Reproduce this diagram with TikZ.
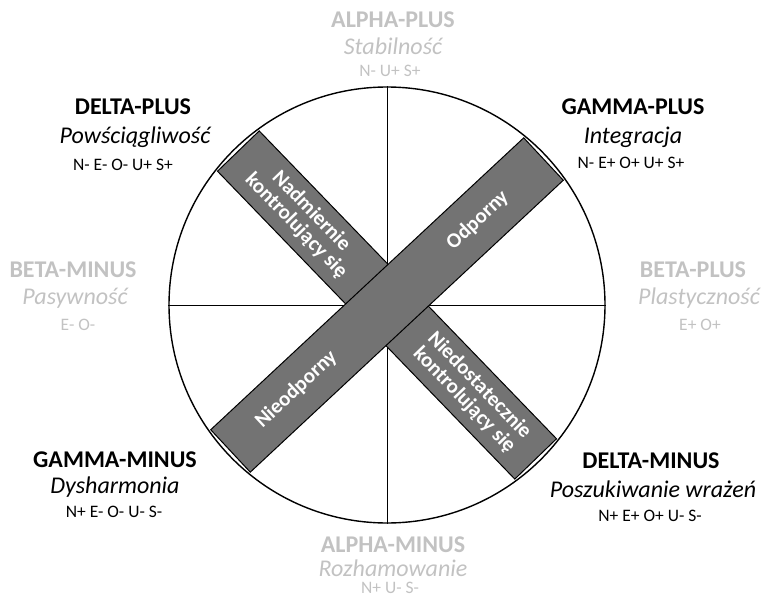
\documentclass[tikz,border=0pt]{standalone}
\usepackage{fontspec}
\setmainfont{Carlito}
\tikzset{
  title/.style={font=\fontsize{24}{28}\selectfont\bfseries},
  metaname/.style={font=\fontsize{24}{28}\selectfont\itshape},
  traits/.style={font=\fontsize{17.5}{20}\selectfont},
  faded/.style={text=black!24},
  band/.style={draw=black,line width=1pt,fill=black!55},
  bandtext/.style={text=white,align=center,inner sep=1pt,font=\fontsize{21}{21}\selectfont\bfseries}
}
\begin{document}
\begin{tikzpicture}[x=1pt,y=-1pt]
\useasboundingbox (0,0) rectangle (763,599);
% circle and the two axes
\node[circle,draw,line width=1.4pt,minimum size=436pt,inner sep=0pt] (wheel) at (387,305) {};
\draw[line width=1pt] (wheel.north) -- (wheel.south);
\draw[line width=1pt] (wheel.west) -- (wheel.east);
% over/undercontrolled band
\begin{scope}[shift={(387,305)},rotate=-46]
\draw[band] (-214,-29) rectangle (214,29);
\node[bandtext,rotate=-46] (over) at (-120,0) {Nadmiernie\\kontrolujący się};
\node[bandtext,rotate=-46] (under) at (122,0) {Niedostatecznie\\kontrolujący się};
\end{scope}
% resilient band
\begin{scope}[shift={(387,305)},rotate=43]
\draw[band] (-214,-29) rectangle (214,29);
\node[bandtext,rotate=43] (resil) at (124,0) {Odporny};
\node[bandtext,rotate=43] (nonresil) at (-124,0) {Nieodporny};
\end{scope}
% alpha
\node[title,faded] (ap) at (393,20) {ALPHA-PLUS};
\node[metaname,faded] (apn) at (393,46) {Stabilność};
\node[traits,faded] (apt) at (390,71) {N- U+ S+};
\node[title,faded] (am) at (393,545) {ALPHA-MINUS};
\node[metaname,faded] (amn) at (393,568) {Rozhamowanie};
\node[traits,faded] (amt) at (390,588) {N+ U- S-};
% beta
\node[title,faded] (bm) at (73,270) {BETA-MINUS};
\node[metaname,faded] (bmn) at (75,298) {Pasywność};
\node[traits,faded] (bmt) at (78,325) {E- O-};
\node[title,faded] (bp) at (693,270) {BETA-PLUS};
\node[metaname,faded] (bpn) at (699,298) {Plastyczność};
\node[traits,faded] (bpt) at (700,325) {E+ O+};
% gamma
\node[title] (gp) at (633,107) {GAMMA-PLUS};
\node[metaname] (gpn) at (633,137) {Integracja};
\node[traits] (gpt) at (631,163) {N- E+ O+ U+ S+};
\node[title] (gm) at (115,460) {GAMMA-MINUS};
\node[metaname] (gmn) at (115,487) {Dysharmonia};
\node[traits] (gmt) at (114,512) {N+ E- O- U- S-};
% delta
\node[title] (dp) at (133,107) {DELTA-PLUS};
\node[metaname] (dpn) at (135,137) {Powściągliwość};
\node[traits] (dpt) at (123,165) {N- E- O- U+ S+};
\node[title] (dm) at (651,461) {DELTA-MINUS};
\node[metaname] (dmn) at (653,489) {Poszukiwanie wrażeń};
\node[traits] (dmt) at (650,516) {N+ E+ O+ U- S-};
\end{tikzpicture}
\end{document}
